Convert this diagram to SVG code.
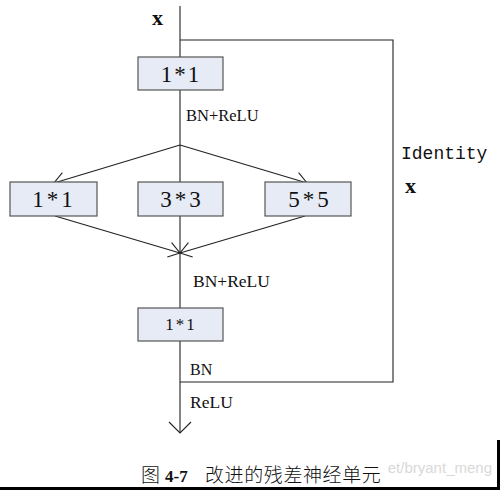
<svg xmlns="http://www.w3.org/2000/svg" width="500" height="490" viewBox="0 0 500 490">
<defs>
<style>
.ln{fill:none;stroke:#222;stroke-width:1.1}
.box{fill:#e6ebf5;stroke:#555;stroke-width:1.2}
.t{font-family:"Liberation Serif",serif;fill:#111}
.bt{font-family:"Liberation Serif",serif;fill:#111;text-anchor:middle}
</style>
<marker id="ah" markerUnits="userSpaceOnUse" markerWidth="30" markerHeight="30" refX="0" refY="0" viewBox="-15 -15 30 30" orient="auto" overflow="visible">
<path d="M-11,-7.5 L0,0 L-11,7.5" fill="none" stroke="#222" stroke-width="1.1"/>
</marker>
<marker id="ah2" markerUnits="userSpaceOnUse" markerWidth="30" markerHeight="30" refX="0" refY="0" viewBox="-15 -15 30 30" orient="auto" overflow="visible">
<path d="M-11,-11 L0,0 L-11,11" fill="none" stroke="#222" stroke-width="1.1"/>
</marker>
</defs>
<rect width="500" height="490" fill="#fff"/>
<g id="connectors">
<line class="ln" x1="180" y1="6" x2="180" y2="433" marker-end="url(#ah2)"/>
<polyline class="ln" points="180,40 393,40 393,382 180,382" stroke-width="1.3"/>
<line class="ln" x1="180" y1="145" x2="54" y2="183" marker-end="url(#ah)"/>
<line class="ln" x1="180" y1="145" x2="307" y2="183" marker-end="url(#ah)"/>
<line class="ln" x1="55" y1="216" x2="180" y2="253" marker-end="url(#ah)"/>
<line class="ln" x1="305" y1="216" x2="180" y2="253" marker-end="url(#ah)"/>
</g>
<g id="n_in"><text class="t" x="152" y="25" font-size="22" font-weight="bold">x</text></g>
<g id="n_conv1"><rect class="box" x="138" y="57" width="85" height="33"/><text class="bt" x="181" y="82" font-size="23" letter-spacing="2">1*1</text></g>
<g id="l_bnrelu1"><text class="t" x="186" y="121" font-size="16.5">BN+ReLU</text></g>
<g id="n_b1"><rect class="box" x="10" y="182" width="87" height="34"/><text class="bt" x="54" y="207" font-size="23" letter-spacing="3">1*1</text></g>
<g id="n_b3"><rect class="box" x="138" y="182" width="85" height="34"/><text class="bt" x="182" y="207" font-size="23" letter-spacing="3">3*3</text></g>
<g id="n_b5"><rect class="box" x="265" y="182" width="86" height="34"/><text class="bt" x="310" y="207" font-size="23" letter-spacing="3">5*5</text></g>
<g id="l_bnrelu2"><text class="t" x="193" y="287" font-size="17.5">BN+ReLU</text></g>
<g id="n_conv4"><rect class="box" x="138" y="308" width="85" height="33"/><text class="bt" x="181" y="330" font-size="17" letter-spacing="2">1*1</text></g>
<g id="l_bn"><text class="t" x="190" y="375" font-size="16">BN</text></g>
<g id="l_relu"><text class="t" x="190" y="408" font-size="17.5">ReLU</text></g>
<g id="l_identity"><text x="401" y="159" font-family="Liberation Mono,monospace" font-size="18" fill="#111">Identity</text><text class="t" x="405" y="193" font-size="22" font-weight="bold">x</text></g>
<text x="492" y="473" font-family="Liberation Sans,sans-serif" font-size="15" fill="#d9d9d9" text-anchor="end">et/bryant_meng</text>
<g id="caption"><text x="141" y="482" font-family="Liberation Serif,'Noto Sans CJK SC',serif" font-size="19" fill="#111"><tspan font-family="'Noto Sans CJK SC',sans-serif" font-weight="300">图</tspan><tspan x="165" font-size="17" font-weight="bold">4-7</tspan><tspan x="205" font-family="'Noto Sans CJK SC',sans-serif" font-weight="300" letter-spacing="0.6">改进的残差神经单元</tspan></text></g>
<rect x="0" y="487" width="500" height="3" fill="#000"/>
<rect x="497" y="440" width="3" height="50" fill="#000"/>
</svg>
